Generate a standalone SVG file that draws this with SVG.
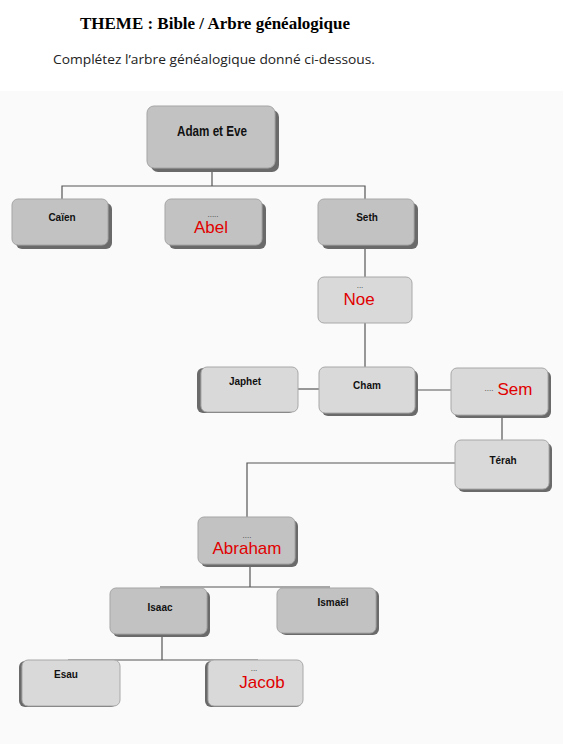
<svg xmlns="http://www.w3.org/2000/svg" width="571" height="755" viewBox="0 0 571 755">
<style>
.title{font-family:"Liberation Serif",serif;font-weight:bold;font-size:16px;fill:#000}
.sub{font-family:"Open Sans","Liberation Sans",sans-serif;font-size:13.5px;fill:#222}
.dark{fill:#c2c2c2;stroke:#a5a5a5;stroke-width:1}
.light{fill:#d9d9d9;stroke:#a8a8a8;stroke-width:1}
.sh{fill:#6a6a6a}
.lbl{font-family:"Liberation Sans Narrow","Liberation Sans",sans-serif;font-weight:bold;font-size:10px;fill:#111;text-anchor:middle}
.big{font-family:"Liberation Sans Narrow","Liberation Sans",sans-serif;font-weight:bold;font-size:14px;fill:#111;text-anchor:middle}
.red{font-family:"Liberation Sans",Arial,sans-serif;font-size:17px;fill:#e00000;text-anchor:middle}
.dots{font-family:"Liberation Sans",sans-serif;font-size:8px;fill:#333;text-anchor:middle}
.ln{fill:none;stroke:#555;stroke-width:1.2}
</style>
<rect x="0" y="0" width="571" height="755" fill="#ffffff"/>
<text class="title" x="80" y="29" textLength="270" lengthAdjust="spacingAndGlyphs">THEME : Bible / Arbre généalogique</text>
<text class="sub" x="53" y="64" textLength="322" lengthAdjust="spacingAndGlyphs">Complétez l’arbre généalogique donné ci-dessous.</text>
<rect x="0" y="91" width="563" height="653" fill="#fafafa"/>
<g id="connectors">
<path class="ln" d="M212 168 V186 M62 199 V186 H365 V199"/>
<path class="ln" d="M365 245 V277"/>
<path class="ln" d="M365 323 V367"/>
<path class="ln" d="M298 389 H319"/>
<path class="ln" d="M415 390 H451"/>
<path class="ln" d="M502 415 V440"/>
<path class="ln" d="M455 463 H247 V517"/>
<path class="ln" d="M250 564 V587 M160 587 H330"/>
<path class="ln" d="M162 634 V660 M68 660 H258"/>
</g>
<g id="adam">
<rect class="sh" x="151" y="110" width="128" height="62" rx="7"/>
<rect class="dark" x="147" y="106" width="128" height="62" rx="7"/>
<text class="big" x="212" y="136" textLength="70" lengthAdjust="spacingAndGlyphs">Adam et Eve</text>
</g>
<g id="caien">
<rect class="sh" x="16" y="203" width="96" height="46" rx="6"/>
<rect class="dark" x="12" y="199" width="96" height="46" rx="6"/>
<text class="lbl" x="62" y="221">Caïen</text>
</g>
<g id="abel">
<rect class="sh" x="169" y="203" width="97" height="46" rx="6"/>
<rect class="dark" x="165" y="199" width="97" height="46" rx="6"/>
<text class="dots" x="213" y="217">.....</text>
<text class="red" x="211" y="233">Abel</text>
</g>
<g id="seth">
<rect class="sh" x="322" y="203" width="96" height="46" rx="6"/>
<rect class="light" x="318" y="199" width="96" height="46" rx="6" style="fill:#c2c2c2"/>
<text class="lbl" x="367" y="221">Seth</text>
</g>
<g id="noe">
<rect class="light" x="318" y="277" width="94" height="46" rx="6"/>
<text class="dots" x="360" y="288">...</text>
<text class="red" x="359" y="305">Noe</text>
</g>
<g id="japhet">
<rect class="sh" x="197" y="368" width="98" height="45" rx="6"/>
<rect class="light" x="201" y="367" width="97" height="45" rx="6"/>
<text class="lbl" x="245" y="385">Japhet</text>
</g>
<g id="cham">
<rect class="sh" x="322" y="370" width="96" height="46" rx="6"/>
<rect class="light" x="319" y="367" width="96" height="46" rx="6"/>
<text class="lbl" x="367" y="389">Cham</text>
</g>
<g id="sem">
<rect class="sh" x="454" y="371" width="97" height="47" rx="6"/>
<rect class="light" x="451" y="368" width="97" height="47" rx="6"/>
<text class="dots" x="489" y="391">....</text>
<text class="red" x="515" y="395">Sem</text>
</g>
<g id="terah">
<rect class="sh" x="458" y="443" width="94" height="49" rx="6"/>
<rect class="light" x="455" y="440" width="94" height="49" rx="6"/>
<text class="lbl" x="503" y="464">Térah</text>
</g>
<g id="abraham">
<rect class="sh" x="201" y="520" width="97" height="47" rx="6"/>
<rect class="dark" x="198" y="517" width="97" height="47" rx="6"/>
<text class="dots" x="247" y="538">....</text>
<text class="red" x="247" y="554">Abraham</text>
</g>
<g id="isaac">
<rect class="sh" x="113" y="591" width="97" height="46" rx="6"/>
<rect class="dark" x="110" y="588" width="97" height="46" rx="6"/>
<text class="lbl" x="160" y="611">Isaac</text>
</g>
<g id="ismael">
<rect class="sh" x="280" y="590" width="99" height="45" rx="6"/>
<rect class="dark" x="277" y="588" width="99" height="45" rx="6"/>
<text class="lbl" x="333" y="606">Ismaël</text>
</g>
<g id="esau">
<rect class="sh" x="19" y="661" width="98" height="46" rx="6"/>
<rect class="light" x="22" y="660" width="98" height="46" rx="6"/>
<text class="lbl" x="66" y="678">Esau</text>
</g>
<g id="jacob">
<rect class="sh" x="205" y="661" width="97" height="46" rx="6"/>
<rect class="light" x="208" y="660" width="95" height="46" rx="6"/>
<text class="dots" x="254" y="671">...</text>
<text class="red" x="262" y="688">Jacob</text>
</g>
</svg>
